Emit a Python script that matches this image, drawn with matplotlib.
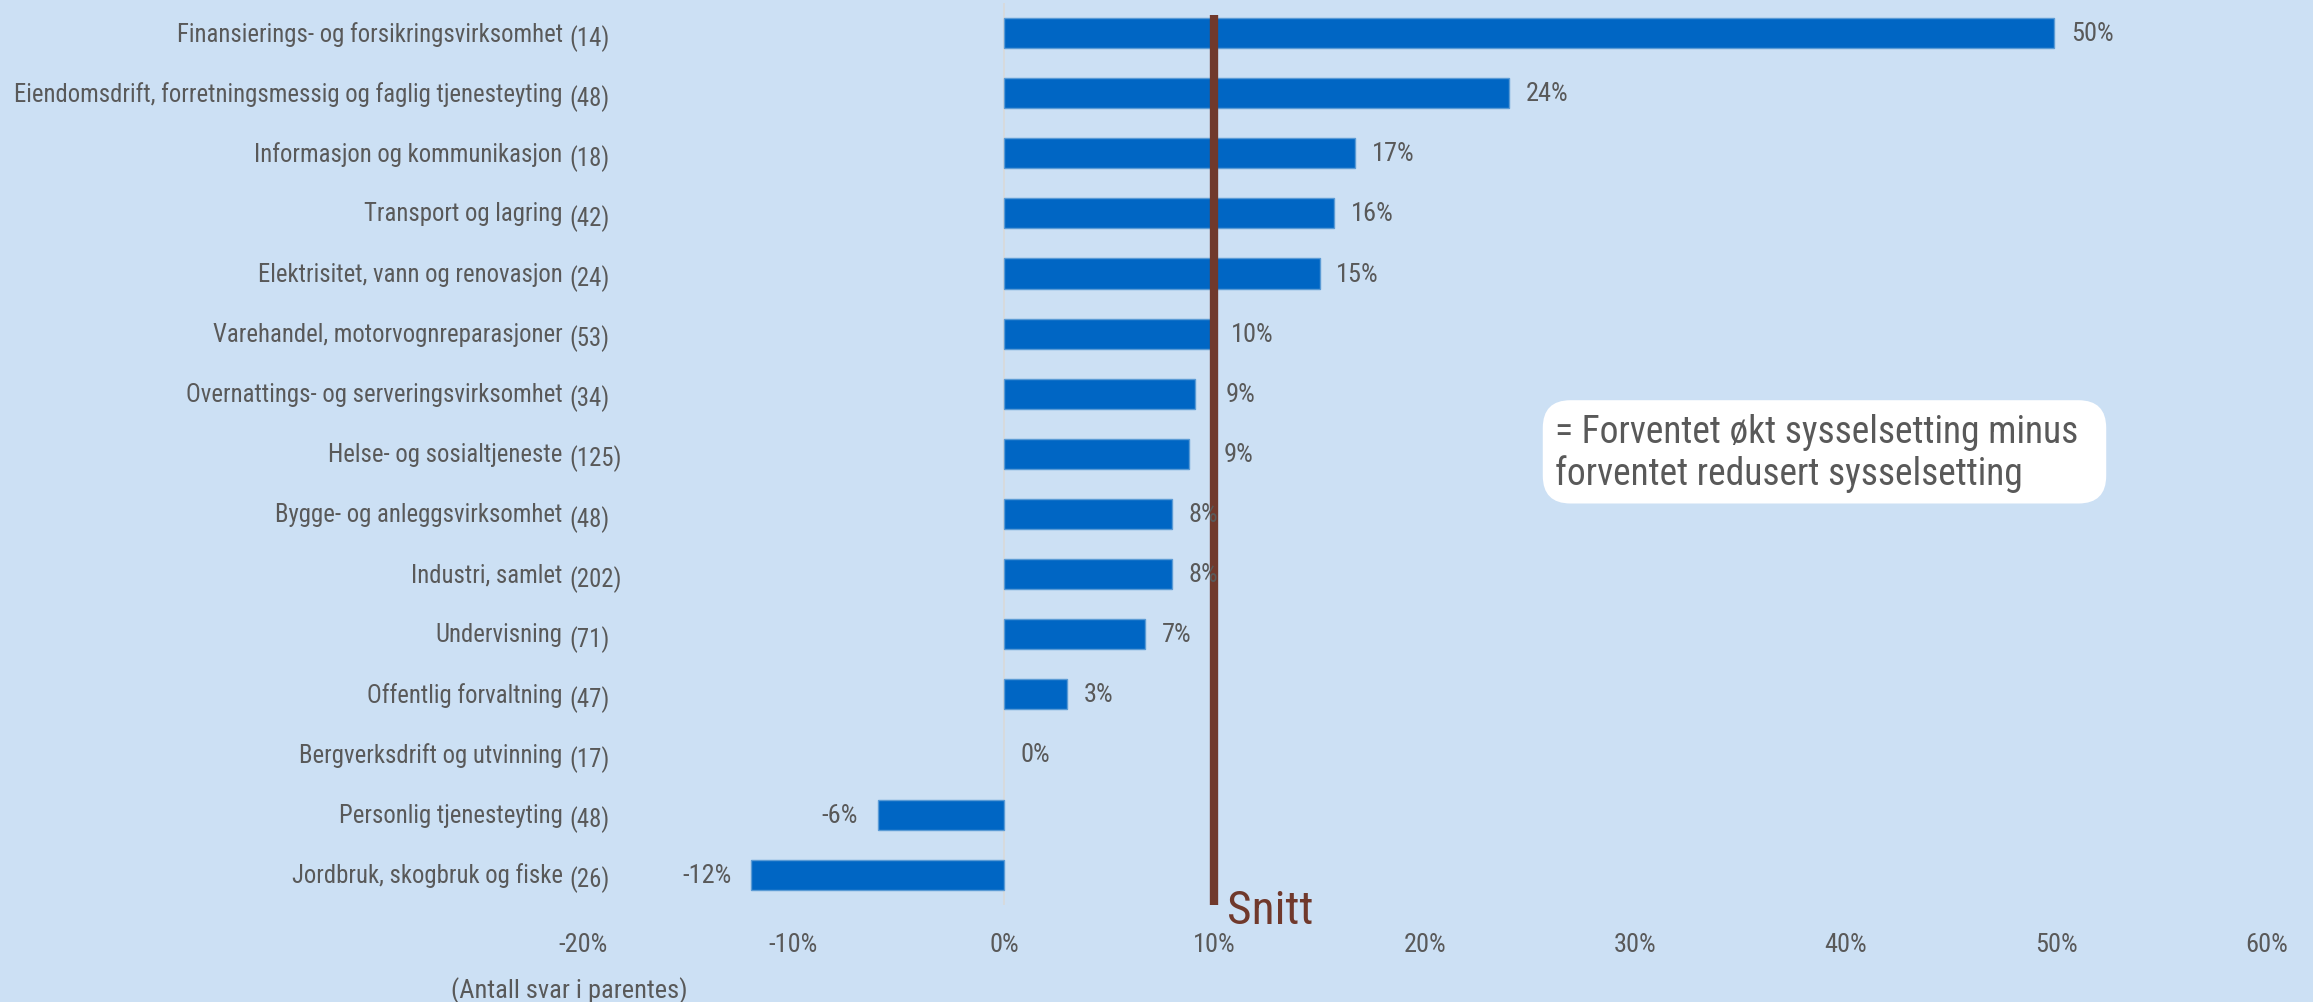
import matplotlib
matplotlib.use("Agg")
import matplotlib.pyplot as plt
from matplotlib import font_manager
from matplotlib.patches import FancyBboxPatch

categories = [
    "Finansierings- og forsikringsvirksomhet",
    "Eiendomsdrift, forretningsmessig og faglig tjenesteyting",
    "Informasjon og kommunikasjon",
    "Transport og lagring",
    "Elektrisitet, vann og renovasjon",
    "Varehandel, motorvognreparasjoner",
    "Overnattings- og serveringsvirksomhet",
    "Helse- og sosialtjeneste",
    "Bygge- og anleggsvirksomhet",
    "Industri, samlet",
    "Undervisning",
    "Offentlig forvaltning",
    "Bergverksdrift og utvinning",
    "Personlig tjenesteyting",
    "Jordbruk, skogbruk og fiske",
]
counts = [14, 48, 18, 42, 24, 53, 34, 125, 48, 202, 71, 47, 17, 48, 26]
values = [49.9, 24.0, 16.7, 15.7, 15.0, 10.0, 9.1, 8.8, 8.0, 8.0, 6.7, 3.0, 0.0, -6.0, -12.0]
average = 10.0
xticks = [-20, -10, 0, 10, 20, 30, 40, 50, 60]

installed = {f.name for f in font_manager.fontManager.ttflist}
fam = None
for cand in ["Liberation Sans Narrow", "Roboto Condensed", "Open Sans Condensed", "Lato", "Roboto"]:
    if cand in installed:
        fam = cand
        break
plt.rcParams['font.family'] = [fam, 'DejaVu Sans'] if fam else ['DejaVu Sans']

BG = "#cce0f4"
BAR = "#0066c4"
TXT = "#595959"
LINE = "#70392c"

fig = plt.figure(figsize=(23.13, 10.03), dpi=100, facecolor=BG)
ax = fig.add_axes([0.252, 0.097, 0.728, 0.899], facecolor=BG)

n = len(categories)
ypos = list(range(n))
edges = ["#5b9bd5" if v != 0 else "none" for v in values]
ax.barh(ypos, values, height=0.5, color=BAR, edgecolor=edges, linewidth=1.0, zorder=2)
ax.set_ylim(n - 0.5, -0.5)
ax.set_xlim(-20, 60)

ax.axvline(0, color="#d9d9d9", linewidth=1.2, zorder=1)
ax.plot([average, average], [-0.3, n - 0.45], color=LINE, linewidth=6, zorder=3, solid_capstyle="butt")
ax.text(average + 0.6, n - 0.42, "Snitt", color=LINE, fontsize=34, ha="left", va="center", zorder=4)

# labels that were moved clear of the average line in the original
extra_offset = {6: 10, 7: 13}
for i, (y, v) in enumerate(zip(ypos, values)):
    lab = f"{round(v):.0f}%"
    if v < 0:
        ax.annotate(lab, (v, y), xytext=(-14, 0), textcoords="offset points",
                    ha="right", va="center", fontsize=19, color=TXT)
    else:
        ax.annotate(lab, (v, y), xytext=(12 + extra_offset.get(i, 0), 0), textcoords="offset points",
                    ha="left", va="center", fontsize=19, color=TXT, zorder=4)

ax.set_yticks(ypos)
ax.set_yticklabels([])
ax.tick_params(axis="y", length=0)
trans = ax.get_yaxis_transform()
for y, c, k in zip(ypos, categories, counts):
    ax.text(-0.012, y, c, transform=trans, ha="right", va="center", fontsize=17.8, color=TXT)
    ax.text(-0.008, y + 0.07, f"({k})", transform=trans, ha="left", va="center", fontsize=17.8, color=TXT)

ax.set_xticks(xticks)
ax.set_xticklabels([f"{t}%" for t in xticks], fontsize=19, color=TXT)
ax.tick_params(axis="x", length=0, pad=20)
for s in ax.spines.values():
    s.set_visible(False)

fig.text(0.195, 0.012, "(Antall svar i parentes)", fontsize=19, color=TXT, ha="left", va="center")

# annotation box
box = FancyBboxPatch((0.667, 0.497), 0.2436, 0.103, boxstyle="round,pad=0,rounding_size=0.012",
                     transform=fig.transFigure, facecolor="white", edgecolor="none", zorder=5,
                     mutation_aspect=2313/1003)
fig.patches.append(box)
fig.text(0.6725, 0.548, "= Forventet økt sysselsetting minus\nforventet redusert sysselsetting",
         fontsize=27, color=TXT, ha="left", va="center", linespacing=1.15, zorder=6)

fig.savefig("out.png", dpi=100, facecolor=BG)
